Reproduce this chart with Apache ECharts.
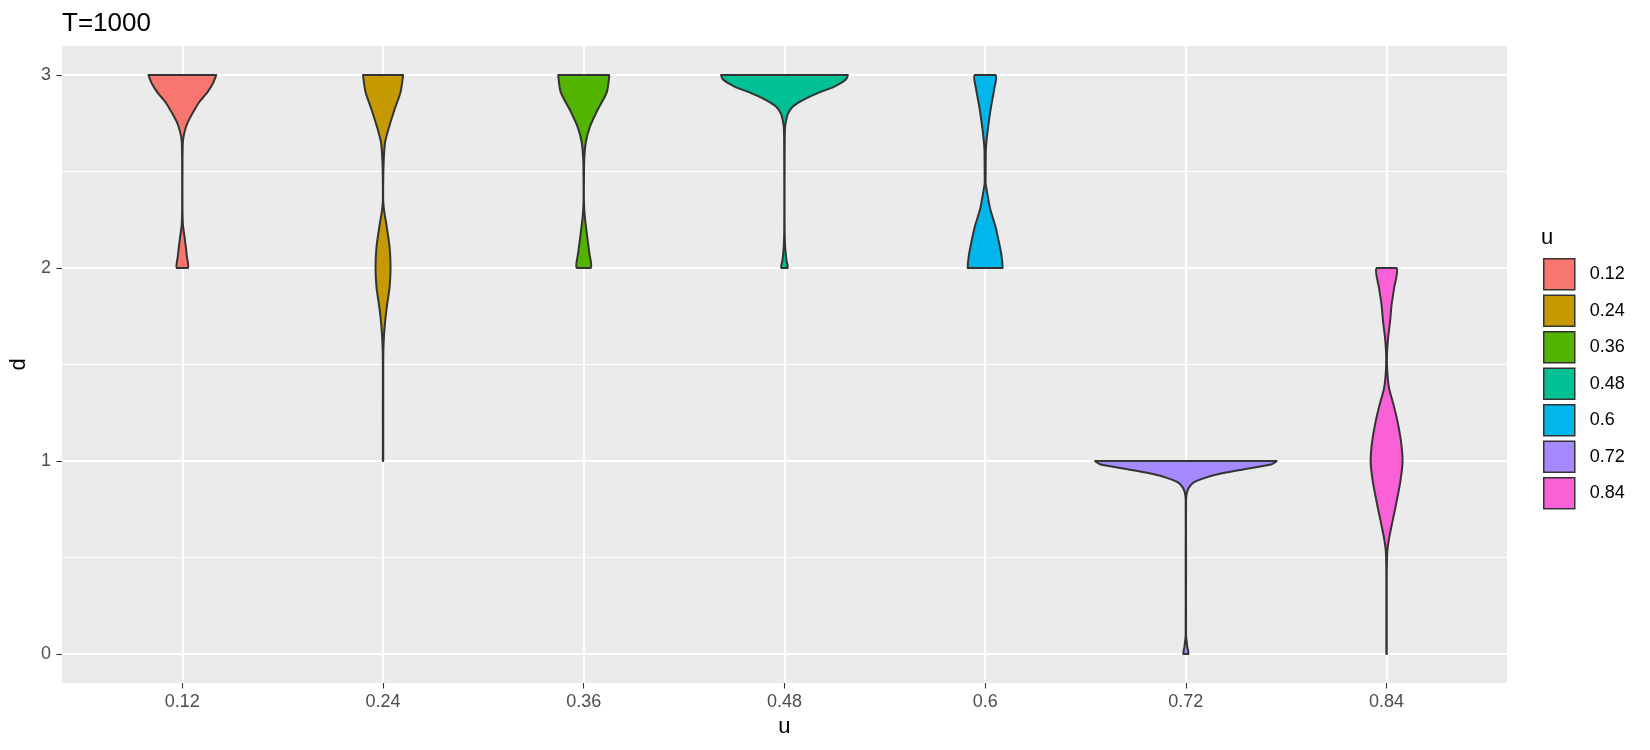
<!DOCTYPE html>
<html>
<head>
<meta charset="utf-8">
<script src="https://cdn.jsdelivr.net/npm/echarts@6/dist/echarts.min.js"></script>
<style>
	html, body { margin: 0; padding: 0; background: #fff; }
	#main { width: 1650px; height: 750px; }
</style>
</head>
<body>
<div id="main"></div>
<script>
	// 分组 u 及颜色
	const uLevels = ['0.12', '0.24', '0.36', '0.48', '0.6', '0.72', '0.84'];
	const uColors = ['#F8766D', '#C49A00', '#53B400', '#00C094', '#00B6EB', '#A58AFF', '#FB61D7'];
	const yTicks = [0, 1, 2, 3];
	const yMinor = [0.5, 1.5, 2.5];

	// 小提琴轮廓: d 取值(从上到下) 与 宽度(类目宽度单位)
	const d012 = [3, 2.96, 2.91, 2.86, 2.8, 2.75, 2.7, 2.65, 2.5, 2.3, 2.22, 2.15, 2.06, 2];
	const w012 = [0.338, 0.308, 0.249, 0.169, 0.1, 0.05, 0.02, 0.005, 0.002, 0.002, 0.007, 0.025, 0.045, 0.055];

	const d024 = [3, 2.91, 2.82, 2.73, 2.65, 2.56, 2.45, 2.35, 2.3, 2.22, 2.11, 2, 1.9, 1.79, 1.69, 1.6, 1.5, 1];
	const w024 = [0.199, 0.174, 0.114, 0.06, 0.02, 0.007, 0.002, 0.002, 0.01, 0.035, 0.065, 0.075, 0.065, 0.035, 0.015, 0.005, 0.002, 0.002];

	const d036 = [3, 2.91, 2.82, 2.73, 2.65, 2.56, 2.45, 2.35, 2.27, 2.16, 2.08, 2];
	const w036 = [0.254, 0.229, 0.139, 0.06, 0.02, 0.005, 0.002, 0.002, 0.01, 0.035, 0.055, 0.07];

	const d048 = [3, 2.976, 2.94, 2.907, 2.87, 2.837, 2.8, 2.76, 2.72, 2.5, 2.2, 2.11, 2.04, 2];
	const w048 = [0.632, 0.612, 0.498, 0.338, 0.184, 0.085, 0.035, 0.015, 0.005, 0.002, 0.002, 0.007, 0.02, 0.032];

	const d060 = [3, 2.926, 2.84, 2.753, 2.666, 2.614, 2.5, 2.44, 2.39, 2.305, 2.22, 2.13, 2.06, 2];
	const w060 = [0.104, 0.09, 0.06, 0.035, 0.015, 0.007, 0.005, 0.005, 0.02, 0.05, 0.1, 0.139, 0.164, 0.174];

	const d072 = [1, 0.983, 0.957, 0.94, 0.914, 0.888, 0.862, 0.836, 0.8, 0.5, 0.1, 0.069, 0.035, 0];
	const w072 = [0.905, 0.856, 0.582, 0.398, 0.199, 0.075, 0.03, 0.01, 0.002, 0.002, 0.002, 0.007, 0.015, 0.025];

	const d084 = [2, 1.896, 1.81, 1.723, 1.637, 1.55, 1.464, 1.377, 1.29, 1.204, 1.1, 1, 0.9, 0.79, 0.69, 0.6, 0.53, 0.4, 0];
	const w084 = [0.1, 0.075, 0.05, 0.035, 0.015, 0.004, 0.007, 0.025, 0.07, 0.109, 0.144, 0.159, 0.139, 0.1, 0.06, 0.025, 0.007, 0.002, 0.002];

	const violinD = [d012, d024, d036, d048, d060, d072, d084];
	const violinW = [w012, w024, w036, w048, w060, w072, w084];

	const myChart = echarts.init(document.getElementById('main'));

	function violinRender(idx) {
		const pos = idx + 1;
		const dArr = violinD[idx];
		const wArr = violinW[idx];
		return function (params, api) {
			const right = dArr.map((d, i) => api.coord([pos + wArr[i] / 2, d]));
			const left = dArr.map((d, i) => api.coord([pos - wArr[i] / 2, d])).reverse();
			const pts = right.concat(left);
			// 限制平滑曲线不超出外框
			const xs = pts.map(p => p[0]);
			const ys = pts.map(p => p[1]);
			const box = [[Math.min(...xs), Math.min(...ys)], [Math.max(...xs), Math.max(...ys)]];
			return {
				type: 'polygon',
				shape: { points: pts, smooth: 0.25, smoothConstraint: box },
				style: { fill: uColors[idx], stroke: '#333333', lineWidth: 2, lineJoin: 'round' }
			};
		};
	}

	const series = uLevels.map((name, i) => ({
		name: name,
		type: 'custom',
		xAxisIndex: 0,
		yAxisIndex: 0,
		itemStyle: { color: uColors[i], borderColor: '#333333', borderWidth: 1.5 },
		renderItem: violinRender(i),
		data: [[i + 1, violinD[i][0]]]
	}));

	const option = {
		animation: false,
		backgroundColor: '#ffffff',
		title: [{
			text: 'T=1000',
			left: 57,
			top: 6,
			textStyle: { fontFamily: 'Liberation Sans', fontSize: 26, fontWeight: 'normal', color: '#000' }
		}, {
			text: 'u',
			left: 1536,
			top: 222,
			textStyle: { fontFamily: 'Liberation Sans', fontSize: 22, fontWeight: 'normal', color: '#000' }
		}],
		legend: {
			orient: 'vertical',
			left: 1538,
			top: 253,
			itemWidth: 31,
			itemHeight: 31,
			itemGap: 4,
			icon: 'rect',
			data: uLevels,
			itemStyle: { borderColor: '#333333', borderWidth: 1.5 },
			textStyle: { fontFamily: 'Liberation Sans', fontSize: 18, color: '#000', padding: [0, 0, 0, 10] }
		},
		grid: {
			left: 60,
			right: 143,
			top: 46,
			bottom: 67,
			show: true,
			backgroundColor: '#EBEBEB',
			borderWidth: 0
		},
		xAxis: {
			type: 'value',
			min: 0.4,
			max: 7.6,
			name: 'u',
			nameLocation: 'middle',
			nameGap: 33,
			nameTextStyle: { fontFamily: 'Liberation Sans', fontSize: 22, color: '#000' },
			axisLine: { show: false, onZero: false },
			axisTick: { show: true, length: 5.5, lineStyle: { color: '#333', width: 1.1 }, customValues: [1, 2, 3, 4, 5, 6, 7] },
			axisLabel: {
				customValues: [1, 2, 3, 4, 5, 6, 7],
				formatter: v => uLevels[Math.round(v) - 1],
				fontFamily: 'Liberation Sans', fontSize: 18, color: '#4D4D4D', margin: 10
			},
			splitLine: { show: true, lineStyle: { color: '#ffffff', width: 2.2 } }
		},
		yAxis: [{
			type: 'value',
			min: -0.15,
			max: 3.15,
			name: 'd',
			nameLocation: 'middle',
			nameGap: 27,
			nameRotate: 90,
			nameTextStyle: { fontFamily: 'Liberation Sans', fontSize: 22, color: '#000' },
			axisLine: { show: false, onZero: false },
			axisTick: { show: true, length: 5.5, lineStyle: { color: '#333', width: 1.1 }, customValues: yTicks },
			axisLabel: { customValues: yTicks, fontFamily: 'Liberation Sans', fontSize: 18, color: '#4D4D4D', margin: 11 },
			splitLine: { show: true, lineStyle: { color: '#ffffff', width: 2.2 } }
		}, {
			type: 'value',
			min: -0.15,
			max: 3.15,
			position: 'left',
			axisLine: { show: false, onZero: false },
			axisTick: { show: false, customValues: yMinor },
			axisLabel: { show: false, customValues: yMinor },
			splitLine: { show: true, lineStyle: { color: '#ffffff', width: 1.1 } }
		}],
		series: series
	};

	myChart.setOption(option);
</script>
</body>
</html>
